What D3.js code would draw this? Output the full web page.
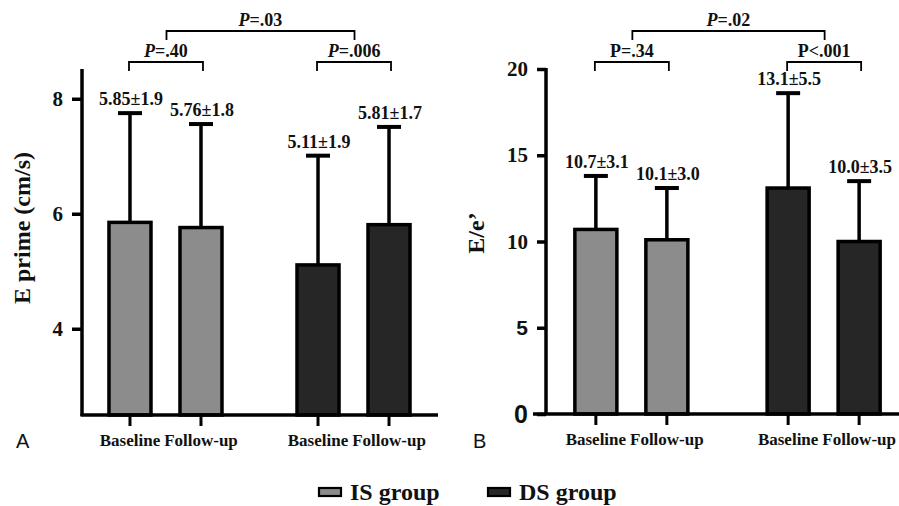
<!DOCTYPE html>
<html>
<head>
<meta charset="utf-8">
<script src="https://cdn.jsdelivr.net/npm/d3@7"></script>
<style>
  body { margin: 0; background: #fff; }
  svg { display: block; }
  text { font-family: "Liberation Serif", "Times New Roman", serif; font-weight: bold; fill: #111; }
</style>
</head>
<body>
<svg id="chart" width="899" height="506"></svg>
<script>
// data
var groups = ["IS", "DS"];
var times = ["Baseline", "Follow-up"];
var groupColors = ["#8c8c8c", "#262626"];
var legendLabels = ["IS group", "DS group"];

// panel A: E prime (cm/s), mean and SD in order IS-base, IS-fu, DS-base, DS-fu
var ePrimeMean = [5.85, 5.76, 5.11, 5.81];
var ePrimeSd = [1.9, 1.8, 1.9, 1.7];
var ePrimeTicks = [4, 6, 8];
var ePrimeP = ["=.40", "=.006", "=.03"];

// panel B: E/e'
var eeMean = [10.7, 10.1, 13.1, 10.0];
var eeSd = [3.1, 3.0, 5.5, 3.5];
var eeTicks = [0, 5, 10, 15, 20];
var eeP = ["=.34", "<.001", "=.02"];
var eePItalic = [false, false, true];

var svg = d3.select("#chart");
var serif = "'Liberation Serif', 'Times New Roman', serif";
var sans = "'Liberation Sans', Arial, sans-serif";

function makePanel(opt) {
  var g = svg.append("g");

  var y = d3.scaleLinear().domain(opt.yDomain).range([opt.yBottom, opt.yTop]);
  var xg = d3.scalePoint().domain(groups).range([opt.xLeft, opt.xRight]).padding(0.444);
  var xt = d3.scaleBand().domain(times).range([-71, 71]).paddingInner(0.366).paddingOuter(0.183);
  var bw = xt.bandwidth();

  var rows = [];
  groups.forEach(function(gr, i) {
    times.forEach(function(t, j) {
      var k = i * 2 + j;
      rows.push({ group: gr, gi: i, time: t, mean: opt.mean[k], sd: opt.sd[k],
        cx: xg(gr) + xt(t) + bw / 2 });
    });
  });

  // bars
  g.selectAll(".bar").data(rows).enter().append("rect")
    .attr("x", function(d) { return d.cx - bw / 2 + 1.5; })
    .attr("width", bw - 3)
    .attr("y", function(d) { return y(d.mean); })
    .attr("height", function(d) { return opt.yBottom - y(d.mean); })
    .attr("fill", function(d) { return groupColors[d.gi]; })
    .attr("stroke", "#000").attr("stroke-width", 3.5);

  // error bars (upper only)
  g.selectAll(".err").data(rows).enter().append("line")
    .attr("x1", function(d) { return d.cx; }).attr("x2", function(d) { return d.cx; })
    .attr("y1", function(d) { return y(d.mean); })
    .attr("y2", function(d) { return y(d.mean + d.sd); })
    .attr("stroke", "#000").attr("stroke-width", 3.5);
  g.selectAll(".cap").data(rows).enter().append("line")
    .attr("x1", function(d) { return d.cx - 12; }).attr("x2", function(d) { return d.cx + 12; })
    .attr("y1", function(d) { return y(d.mean + d.sd); })
    .attr("y2", function(d) { return y(d.mean + d.sd); })
    .attr("stroke", "#000").attr("stroke-width", 4);

  g.selectAll(".val").data(rows).enter().append("text")
    .attr("x", function(d) { return d.cx + 1; })
    .attr("y", function(d) { return y(d.mean + d.sd) - 8; })
    .attr("text-anchor", "middle").attr("font-size", 18)
    .text(function(d) { return d3.format(opt.fmt)(d.mean) + "±" + d.sd.toFixed(1); });

  // y axis
  var yAxis = d3.axisLeft(y).tickValues(opt.ticks).tickFormat(d3.format("d"))
    .tickSize(opt.tickLen).tickSizeOuter(0).tickPadding(9);
  var ya = g.append("g").attr("transform", "translate(" + opt.xLeft + ",0)").call(yAxis);
  ya.select(".domain").attr("stroke", "#000").attr("stroke-width", 3.5)
    .attr("d", "M0," + (opt.yBottom + 1) + "V" + (opt.yTop - 1));
  ya.selectAll(".tick line").attr("stroke", "#000").attr("stroke-width", 3.5);
  ya.selectAll(".tick text")
    .attr("font-size", function(d) { return d === 0 ? 25 : 21; })
    .style("font-family", function(d) { return (d === 0 || d === 5) ? sans : serif; })
    .style("font-weight", "bold")
    .attr("fill", function(d) { return d === 5 ? "#333" : "#111"; });

  // x axis
  g.append("line")
    .attr("x1", opt.xAxisStart).attr("x2", opt.xAxisEnd)
    .attr("y1", opt.yBottom).attr("y2", opt.yBottom)
    .attr("stroke", "#000").attr("stroke-width", 3.5);
  g.selectAll(".xt").data(rows).enter().append("line")
    .attr("x1", function(d) { return d.cx; }).attr("x2", function(d) { return d.cx; })
    .attr("y1", opt.yBottom).attr("y2", opt.yBottom + 11)
    .attr("stroke", "#000").attr("stroke-width", 3);
  g.selectAll(".xl").data(rows).enter().append("text")
    .attr("x", function(d) { return d.cx; })
    .attr("y", opt.yBottom + 31)
    .attr("text-anchor", "middle").attr("font-size", 17)
    .text(function(d) { return d.time; });

  // y title
  g.append("text")
    .attr("transform", "translate(" + opt.titleX + "," + opt.titleY + ") rotate(-90)")
    .attr("text-anchor", "middle").attr("font-size", 24)
    .text(opt.title);

  // panel letter
  g.append("text")
    .attr("x", opt.letterX).attr("y", 448)
    .style("font-family", sans)
    .style("font-weight", "normal")
    .attr("font-size", 20).text(opt.letter);

  // significance brackets
  function bracket(x1, x2, yy, label, italic) {
    g.append("path")
      .attr("d", "M" + x1 + "," + (yy + 9) + "V" + yy + "H" + x2 + "V" + (yy + 9))
      .attr("fill", "none").attr("stroke", "#000").attr("stroke-width", 1.8);
    var t = g.append("text").attr("x", (x1 + x2) / 2).attr("y", yy - 5)
      .attr("text-anchor", "middle").attr("font-size", 18);
    t.append("tspan").style("font-style", italic ? "italic" : "normal").text("P");
    t.append("tspan").text(label);
  }
  groups.forEach(function(gr, i) {
    var a = rows[i * 2].cx, b = rows[i * 2 + 1].cx;
    bracket(a - 1, b + 2, 62, opt.p[i], opt.pItalic[i]);
  });
  bracket(xg(groups[0]) + 1, xg(groups[1]) + 1, 31, opt.p[2], opt.pItalic[2]);
}

makePanel({
  mean: ePrimeMean, sd: ePrimeSd, ticks: ePrimeTicks, p: ePrimeP, pItalic: [true, true, true],
  yDomain: [2.5, 8.5], yBottom: 415, yTop: 70, tickLen: 10,
  xLeft: 82, xRight: 437, xAxisStart: 80.5, xAxisEnd: 438,
  fmt: ".2f", title: "E prime (cm/s)", titleX: 30, titleY: 228, letter: "A", letterX: 16
});

makePanel({
  mean: eeMean, sd: eeSd, ticks: eeTicks, p: eeP, pItalic: eePItalic,
  yDomain: [0, 20], yBottom: 414, yTop: 69, tickLen: 9,
  xLeft: 546, xRight: 909, xAxisStart: 533, xAxisEnd: 899,
  fmt: ".1f", title: "E/e’", titleX: 484, titleY: 233, letter: "B", letterX: 473
});

// legend
var legend = svg.append("g");
var legX = [318, 487];
legendLabels.forEach(function(lab, i) {
  legend.append("rect")
    .attr("x", legX[i] + 1).attr("y", 488).attr("width", 22).attr("height", 8)
    .attr("fill", groupColors[i]).attr("stroke", "#000").attr("stroke-width", 2.2);
  legend.append("text")
    .attr("x", legX[i] + 32).attr("y", 500)
    .attr("font-size", 24).text(lab);
});
</script>
</body>
</html>
